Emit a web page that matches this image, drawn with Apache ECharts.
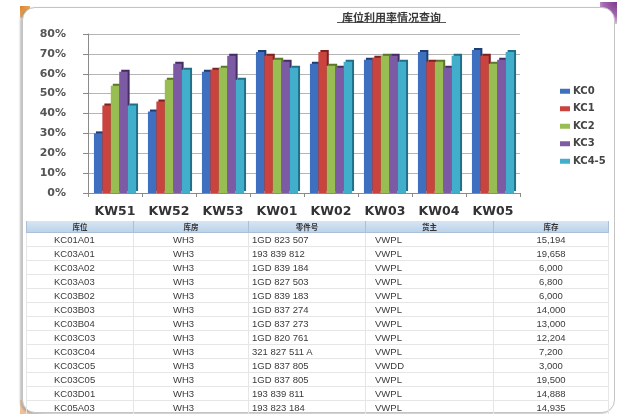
<!DOCTYPE html>
<html>
<head>
<meta charset="utf-8">
<script src="https://cdn.jsdelivr.net/npm/echarts@6/dist/echarts.min.js"></script>
<style>
  html, body { margin: 0; padding: 0; background: #ffffff; width: 617px; height: 414px; overflow: hidden; }
  #card {
    position: absolute; left: 22px; top: 7px; width: 591px; height: 404px;
    background: #ffffff; border: 1px solid #c4c4c4; border-radius: 13px;
    box-shadow: -2px 1px 2px rgba(120,120,120,0.45);
    overflow: hidden;
  }
  #cornerTL { position: absolute; left: 20px; top: 6px; width: 10px; height: 12px;
    background: radial-gradient(circle at 0 0, #d9822b 0, #e9a55a 60%, rgba(255,255,255,0) 100%); }
  #cornerTR { position: absolute; left: 600px; top: 2px; width: 17px; height: 22px;
    background: radial-gradient(circle at 100% 0, #7a3a8a 0, #a46ab0 50%, rgba(255,255,255,0) 100%); }
  #cornerBL { position: absolute; left: 20px; top: 400px; width: 30px; height: 14px;
    background: radial-gradient(circle at 0 100%, #f0b888 0, rgba(255,255,255,0) 80%); }
  #chart { position: absolute; left: 0; top: 0; width: 617px; height: 222px; }
  #tbl { position: absolute; left: 26px; top: 221px; width: 582px; border-collapse: collapse;
    font-family: "Liberation Sans", Arial, sans-serif; font-size: 9.5px; color: #3a3a3a; table-layout: fixed; }
  #tbl th { height: 11px; padding: 0; font-size: 7.5px; font-weight: bold; color: #333;
    font-family: "Noto Sans CJK SC", sans-serif;
    background: linear-gradient(#d6e5f3, #bcd3ea); border-left: 1px solid #a9c0d8; border-right: 1px solid #a9c0d8;
    border-bottom: 1px solid #a9c0d8; text-align: center; line-height: 11px; }
  #tbl td { height: 13px; padding: 0; line-height: 13px; border-bottom: 1px solid #e6e6e6;
    border-left: 1px solid #e6e6e6; border-right: 1px solid #e6e6e6; white-space: nowrap; }
  #tbl td.c1 { text-align: left; padding-left: 27px; }
  #tbl td.c2 { text-align: left; padding-left: 39px; }
  #tbl td.c3 { text-align: left; padding-left: 3px; }
  #tbl td.c4 { text-align: left; padding-left: 9px; }
  #tbl td.c5 { text-align: center; }
</style>
</head>
<body>
<div id="cornerTL"></div>
<div id="cornerTR"></div>
<div id="cornerBL"></div>
<div id="card"></div>
<div id="chart"></div>
<table id="tbl"></table>
<script>
// ---- chart data ----
var categories = ['KW51', 'KW52', 'KW53', 'KW01', 'KW02', 'KW03', 'KW04', 'KW05'];
var seriesNames = ['KC0', 'KC1', 'KC2', 'KC3', 'KC4-5'];
var kc0  = [0.30, 0.41, 0.61, 0.71, 0.65, 0.67, 0.71, 0.72];
var kc1  = [0.44, 0.46, 0.62, 0.69, 0.71, 0.68, 0.66, 0.69];
var kc2  = [0.54, 0.57, 0.63, 0.67, 0.64, 0.69, 0.66, 0.65];
var kc3  = [0.61, 0.65, 0.69, 0.66, 0.63, 0.69, 0.63, 0.67];
var kc45 = [0.44, 0.62, 0.57, 0.63, 0.66, 0.66, 0.69, 0.71];
var yTicks = [0, 0.1, 0.2, 0.3, 0.4, 0.5, 0.6, 0.7, 0.8];
var chartTitle = '库位利用率情况查询';

// ---- table data ----
var tableHeaders = ['库位', '库房', '零件号', '货主', '库存'];
var colLocation = ['KC01A01','KC03A01','KC03A02','KC03A03','KC03B02','KC03B03','KC03B04','KC03C03','KC03C04','KC03C05','KC03C05','KC03D01','KC05A03'];
var colWarehouse = ['WH3','WH3','WH3','WH3','WH3','WH3','WH3','WH3','WH3','WH3','WH3','WH3','WH3'];
var colPart = ['1GD 823 507','193 839 812','1GD 839 184','1GD 827 503','1GD 839 183','1GD 837 274','1GD 837 273','1GD 820 761','321 827 511 A','1GD 837 805','1GD 837 805','193 839 811','193 823 184'];
var colOwner = ['VWPL','VWPL','VWPL','VWPL','VWPL','VWPL','VWPL','VWPL','VWPL','VWDD','VWPL','VWPL','VWPL'];
var colStock = ['15,194','19,658','6,000','6,800','6,000','14,000','13,000','12,204','7,200','3,000','19,500','14,888','14,935'];

// build table
(function () {
  var t = document.getElementById('tbl');
  var html = '<colgroup><col style="width:107px"><col style="width:115px"><col style="width:117px"><col style="width:128px"><col style="width:115px"></colgroup>';
  html += '<tr>' + tableHeaders.map(function (h) { return '<th>' + h + '</th>'; }).join('') + '</tr>';
  for (var i = 0; i < colLocation.length; i++) {
    html += '<tr><td class="c1">' + colLocation[i] + '</td><td class="c2">' + colWarehouse[i] +
      '</td><td class="c3">' + colPart[i] + '</td><td class="c4">' + colOwner[i] +
      '</td><td class="c5">' + colStock[i] + '</td></tr>';
  }
  t.innerHTML = html;
})();

var colors = ['#3f70bf', '#c9433f', '#98bd52', '#7c5ba4', '#41afcc'];
var sides  = ['#1f3f73', '#7a2321', '#5a772b', '#452e63', '#21708a'];
var seriesData = [kc0, kc1, kc2, kc3, kc45];

var chart = echarts.init(document.getElementById('chart'), null, { renderer: 'canvas' });
var series = seriesData.map(function (d, i) {
  return {
    name: seriesNames[i],
    type: 'bar',
    data: d,
    barGap: '0%',
    barCategoryGap: '22%',
    itemStyle: {
      color: colors[i],
      shadowColor: sides[i],
      shadowOffsetX: 2,
      shadowOffsetY: -2,
      shadowBlur: 0
    },
    emphasis: { disabled: true },
    animation: false
  };
});

chart.setOption({
  animation: false,
  color: colors,
  title: {
    text: chartTitle,
    left: 337,
    top: 7,
    textStyle: { fontFamily: 'Noto Sans CJK SC', fontSize: 11, fontWeight: 'bold', color: '#3a3a3a' }
  },
  graphic: [{
    type: 'line', shape: { x1: 337, y1: 22.5, x2: 446, y2: 22.5 },
    style: { stroke: '#555', lineWidth: 1 }
  }],
  legend: {
    orient: 'vertical',
    left: 555,
    top: 80,
    itemWidth: 10,
    itemHeight: 5,
    itemGap: 5,
    icon: 'rect',
    textStyle: { fontFamily: 'DejaVu Sans', fontSize: 10, fontWeight: 'bold', color: '#444', lineHeight: 12.5, padding: [0, 0, 0, -2] },
    data: seriesNames
  },
  grid: { left: 88, right: 97, top: 34, bottom: 29, containLabel: false },
  xAxis: {
    type: 'category',
    data: categories,
    axisLine: { show: true, lineStyle: { color: '#8a8a8a' } },
    axisTick: { show: true, length: 4, lineStyle: { color: '#8a8a8a' } },
    axisLabel: { interval: 0, margin: 12, fontFamily: 'DejaVu Sans', fontSize: 12.5, fontWeight: 'bold', color: '#333' }
  },
  yAxis: {
    type: 'value',
    min: 0,
    max: 0.8,
    interval: 0.1,
    axisLine: { show: true, lineStyle: { color: '#8a8a8a' } },
    axisTick: { show: true, length: 5, lineStyle: { color: '#8a8a8a' } },
    splitLine: { show: true, lineStyle: { color: '#b5b5b5' } },
    axisLabel: {
      margin: 22,
      fontFamily: 'DejaVu Sans', fontSize: 11, fontWeight: 'bold', color: '#555',
      formatter: function (v) {
        var t = yTicks.filter(function (x) { return Math.abs(x - v) < 1e-6; });
        return t.length ? Math.round(t[0] * 100) + '%' : '';
      }
    }
  },
  series: series
});
</script>
</body>
</html>
